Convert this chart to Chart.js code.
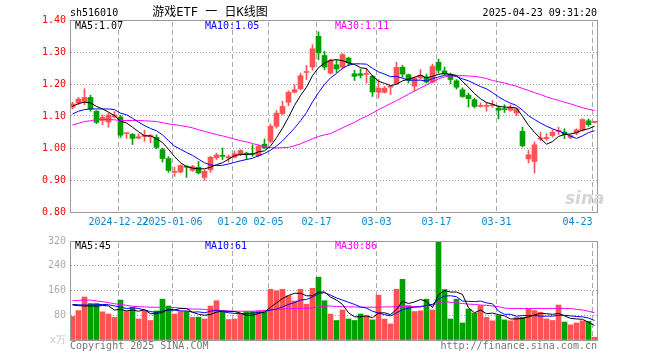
<!DOCTYPE html>
<html>
<head>
<meta charset="utf-8">
<script src="https://cdn.jsdelivr.net/npm/chart.js@4.4.1/dist/chart.umd.min.js"></script>
<style>
  body { margin: 0; background: #fff; }
  #wrap { position: relative; width: 660px; height: 360px; overflow: hidden;
          font-family: "DejaVu Sans Mono", monospace; font-size: 10px; }
  canvas { position: absolute; left: 0; }
  .t { position: absolute; line-height: 12px; white-space: pre; }
</style>
</head>
<body>
<div id="wrap">
  <canvas id="kline" width="660" height="232" style="top:0"></canvas>
  <canvas id="vol" width="660" height="130" style="top:230px"></canvas>

  <div class="t" style="left:70px;top:7px">sh516010</div>
  <div class="t" style="left:210px;top:5px;font-size:12px;line-height:14px;transform:translateX(-50%);font-family:'DejaVu Sans Mono','Noto Sans CJK SC',monospace">游戏ETF 一 日K线图</div>
  <div class="t" style="right:63px;top:7px">2025-04-23 09:31:20</div>

  <div class="t" style="left:75px;top:20px;color:#000">MA5:1.07</div>
  <div class="t" style="left:205px;top:20px;color:#0000ff">MA10:1.05</div>
  <div class="t" style="left:335px;top:20px;color:#ff00ff">MA30:1.11</div>

  <div class="t" style="left:75px;top:240px;color:#000">MA5:45</div>
  <div class="t" style="left:205px;top:240px;color:#0000ff">MA10:61</div>
  <div class="t" style="left:335px;top:240px;color:#ff00ff">MA30:86</div>

  <div class="t" style="left:565px;top:188px;font:italic bold 17px 'DejaVu Sans',sans-serif;color:#d6d6d6">sina</div>

  <div class="t" style="left:70px;top:340px;color:#777">Copyright 2025 SINA.COM</div>
  <div class="t" style="right:63px;top:340px;color:#777">http://finance.sina.com.cn</div>
</div>

<script>
// x axis: trading days 2024-12-11 .. 2025-04-23, labels at these day indexes
const gridIdx = [8, 17, 27, 33, 41, 51, 61, 71, 87];
const xLabels = ['2024-12-22', '2025-01-06', '01-20', '02-05', '02-17', '03-03', '03-17', '03-31', '04-23     '];

const open = [1.128,1.141,1.143,1.158,1.115,1.086,1.081,1.097,1.097,1.045,
  1.043,1.031,1.036,1.035,1.033,0.995,0.967,0.924,0.925,0.942,
  0.930,0.940,0.908,0.932,0.969,0.977,0.969,0.971,0.979,0.984,
  0.982,0.976,1.012,1.021,1.068,1.107,1.143,1.174,1.185,1.236,
  1.253,1.349,1.289,1.234,1.260,1.253,1.281,1.232,1.232,1.230,
  1.224,1.174,1.174,1.190,1.201,1.252,1.229,1.193,1.219,1.222,
  1.206,1.268,1.241,1.229,1.210,1.182,1.165,1.151,1.130,1.130,
  1.132,1.125,1.123,1.118,1.109,1.052,0.966,0.958,1.028,1.029,
  1.039,1.052,1.050,1.033,1.047,1.055,1.085,1.080];
const high = [1.143,1.158,1.185,1.165,1.117,1.104,1.109,1.114,1.102,1.047,
  1.045,1.044,1.055,1.042,1.041,1.000,0.973,0.940,0.948,0.945,
  0.946,0.958,0.932,0.974,0.984,1.000,0.978,0.990,0.995,0.987,
  1.010,1.010,1.028,1.075,1.117,1.146,1.179,1.198,1.234,1.258,
  1.323,1.363,1.302,1.278,1.276,1.295,1.284,1.243,1.247,1.250,
  1.227,1.214,1.193,1.195,1.268,1.258,1.231,1.222,1.245,1.231,
  1.262,1.278,1.253,1.234,1.214,1.188,1.172,1.156,1.141,1.143,
  1.148,1.132,1.135,1.135,1.125,1.065,0.993,1.019,1.049,1.045,
  1.057,1.065,1.060,1.042,1.060,1.092,1.091,1.083];
const low = [1.122,1.135,1.135,1.115,1.076,1.073,1.065,1.094,1.033,1.030,
  1.011,1.028,1.021,1.016,0.998,0.956,0.924,0.911,0.922,0.908,
  0.927,0.919,0.899,0.924,0.964,0.964,0.956,0.969,0.976,0.964,
  0.974,0.972,0.998,1.016,1.062,1.104,1.132,1.172,1.182,1.214,
  1.243,1.276,1.245,1.231,1.236,1.247,1.257,1.211,1.219,1.203,
  1.161,1.156,1.172,1.167,1.198,1.221,1.203,1.179,1.216,1.203,
  1.203,1.234,1.229,1.201,1.184,1.158,1.128,1.125,1.128,1.115,
  1.127,1.091,1.111,1.115,1.101,1.003,0.953,0.922,1.023,1.024,
  1.034,1.042,1.029,1.029,1.041,1.052,1.068,1.078];
const close = [1.138,1.153,1.158,1.122,1.080,1.096,1.103,1.103,1.040,1.047,
  1.030,1.035,1.040,1.039,1.002,0.967,0.930,0.927,0.945,0.940,
  0.942,0.922,0.927,0.971,0.978,0.974,0.973,0.982,0.992,0.979,
  0.980,1.005,1.000,1.068,1.109,1.130,1.174,1.182,1.226,1.238,
  1.310,1.297,1.253,1.274,1.247,1.292,1.266,1.224,1.227,1.233,
  1.175,1.187,1.187,1.193,1.252,1.231,1.211,1.219,1.227,1.206,
  1.255,1.243,1.232,1.214,1.190,1.161,1.154,1.130,1.133,1.133,
  1.135,1.118,1.120,1.128,1.122,1.007,0.979,1.010,1.031,1.033,
  1.049,1.055,1.042,1.039,1.057,1.089,1.073,1.082];

const ma5 = [1.130,1.139,1.143,1.141,1.130,1.122,1.112,1.101,1.084,1.078,
  1.065,1.051,1.038,1.038,1.029,1.017,0.996,0.973,0.954,0.942,
  0.937,0.935,0.935,0.940,0.948,0.954,0.965,0.976,0.980,0.980,
  0.981,0.988,0.991,1.006,1.032,1.062,1.096,1.133,1.164,1.190,
  1.226,1.251,1.265,1.274,1.276,1.273,1.266,1.261,1.251,1.248,
  1.225,1.209,1.202,1.195,1.199,1.210,1.215,1.221,1.228,1.219,
  1.224,1.230,1.233,1.230,1.227,1.208,1.190,1.170,1.154,1.142,
  1.137,1.130,1.128,1.127,1.125,1.099,1.071,1.049,1.030,1.012,
  1.020,1.036,1.042,1.044,1.048,1.056,1.060,1.068];
const ma10 = [1.106,1.115,1.120,1.122,1.122,1.122,1.122,1.120,1.109,1.104,
  1.093,1.081,1.070,1.061,1.054,1.041,1.023,1.006,0.996,0.986,
  0.977,0.965,0.954,0.947,0.945,0.946,0.950,0.955,0.960,0.964,
  0.968,0.976,0.983,0.993,1.006,1.022,1.042,1.062,1.085,1.111,
  1.144,1.173,1.199,1.219,1.233,1.249,1.259,1.263,1.263,1.262,
  1.249,1.238,1.231,1.223,1.224,1.218,1.212,1.212,1.212,1.209,
  1.217,1.222,1.227,1.229,1.223,1.216,1.210,1.201,1.192,1.185,
  1.173,1.160,1.149,1.140,1.133,1.118,1.101,1.089,1.078,1.068,
  1.060,1.053,1.046,1.037,1.030,1.038,1.048,1.054];
const ma30 = [1.072,1.077,1.083,1.085,1.089,1.089,1.089,1.088,1.086,1.086,
  1.086,1.086,1.085,1.084,1.083,1.079,1.075,1.073,1.070,1.067,
  1.063,1.057,1.052,1.047,1.042,1.038,1.033,1.028,1.023,1.019,
  1.014,1.009,1.004,1.001,1.000,1.001,1.002,1.007,1.013,1.021,
  1.029,1.036,1.041,1.045,1.054,1.063,1.072,1.080,1.091,1.099,
  1.109,1.120,1.129,1.139,1.148,1.158,1.168,1.178,1.188,1.197,
  1.207,1.216,1.222,1.225,1.226,1.226,1.225,1.224,1.221,1.217,
  1.211,1.207,1.203,1.198,1.193,1.186,1.180,1.173,1.167,1.160,
  1.154,1.149,1.143,1.138,1.132,1.126,1.121,1.117];

// volume, 万手
const vol = [76,95,139,118,118,91,84,73,129,92,
  105,68,95,63,94,132,110,84,92,92,
  73,74,68,110,127,90,66,68,84,92,
  92,94,90,164,159,164,143,126,164,116,
  167,203,127,84,63,97,68,63,84,78,
  65,145,68,52,164,196,111,92,94,132,
  97,316,163,68,132,55,100,87,111,73,
  62,79,65,62,73,73,100,95,90,68,
  63,113,58,49,55,62,60,9];
const vma5 = [113,111,110,110,109,112,110,97,99,94,
  97,93,98,85,85,90,99,97,102,102,
  90,83,80,83,90,94,92,92,87,80,
  80,86,90,106,120,134,144,151,151,143,
  143,155,155,139,129,115,88,75,75,78,
  72,87,88,82,99,125,118,123,131,125,
  105,146,160,155,155,147,104,88,97,85,
  87,82,78,68,68,70,75,81,86,85,
  83,86,78,70,68,67,57,47];
const vma10 = [115,114,113,113,114,115,114,110,106,102,
  104,102,97,92,89,94,96,97,94,94,
  90,91,88,93,96,92,88,86,85,85,
  87,89,91,97,100,107,115,121,129,131,
  139,150,153,145,136,129,122,115,107,103,
  93,87,82,78,88,98,103,106,107,112,
  115,132,142,143,140,126,125,124,126,120,
  117,93,83,83,77,79,79,79,77,77,
  77,80,80,78,76,75,71,63];
const vma30 = [127,128,129,129,126,124,121,117,115,112,
  109,108,107,106,106,105,105,105,103,101,
  100,100,99,97,96,95,94,93,93,93,
  93,94,95,97,99,100,101,102,102,102,
  104,107,109,110,108,108,107,107,106,106,
  106,106,107,107,108,108,108,108,109,110,
  113,120,124,122,120,118,116,115,113,112,
  110,108,103,102,102,102,102,102,102,102,
  102,102,102,102,99,97,93,88];

const UP = '#ff5353', DOWN = '#00a000';
const FONT = { family: 'DejaVu Sans Mono', size: 10 };
const idx = close.map((_, i) => i);
const colorOf = i => close[i] >= open[i] ? UP : DOWN;
const pts = arr => idx.map(i => ({ x: i, y: arr[i] }));

// dashed date lines, placed by the x scale, under the marks
const dateLines = {
  id: 'dateLines',
  beforeDatasetsDraw(chart) {
    const { ctx, chartArea: a, scales: { x } } = chart;
    ctx.save();
    ctx.fillStyle = '#aaaaaa';
    x.ticks.forEach(t => {
      const px = Math.floor(x.getPixelForValue(t.value));
      for (let y = a.top + 2; y < a.bottom - 1; y += 8) {
        ctx.fillRect(px, y, 1, Math.min(5, a.bottom - 1 - y));
      }
    });
    ctx.restore();
  }
};

// solid grey frame round the plot area
const frame = {
  id: 'frame',
  afterDatasetsDraw(chart) {
    const { ctx, chartArea: a } = chart;
    ctx.save();
    ctx.strokeStyle = '#999999';
    ctx.lineWidth = 1;
    ctx.setLineDash([]);
    ctx.strokeRect(a.left - 0.5, a.top + 0.5, a.right - a.left + 1, a.bottom - a.top);
    ctx.restore();
  }
};

function maLine(label, arr, color) {
  return { type: 'line', label, data: pts(arr), borderColor: color, borderWidth: 1,
           pointRadius: 0, tension: 0, order: 0 };
}

function xScale(showLabels) {
  return {
    type: 'linear',
    offset: false,
    min: -0.25,
    max: -0.25 + 526 / 6,
    afterBuildTicks: s => { s.ticks = gridIdx.map(v => ({ value: v - 1 / 3 })); },
    afterFit: s => { s.height = 20; },
    grid: { display: false, drawTicks: false, offset: false },
    border: { display: false },
    ticks: {
      display: showLabels, autoSkip: false, maxRotation: 0, minRotation: 0,
      padding: 4, color: '#0a86cc', font: FONT,
      callback: (v, i) => xLabels[i]
    }
  };
}

new Chart(document.getElementById('kline'), {
  type: 'bar',
  data: {
    datasets: [
      maLine('MA5', ma5, '#000000'),
      maLine('MA10', ma10, '#0000ff'),
      maLine('MA30', ma30, '#ff00ff'),
      { label: 'body', data: idx.map(i => ({ x: i, y: [open[i], close[i]] })),
        backgroundColor: c => colorOf(c.dataIndex), barThickness: 5, minBarLength: 1,
        grouped: false, order: 2 },
      { label: 'wick', data: idx.map(i => ({ x: i, y: [low[i], high[i]] })),
        backgroundColor: c => colorOf(c.dataIndex), barThickness: 1,
        grouped: false, order: 3 }
    ]
  },
  options: {
    responsive: false,
    animation: false,
    layout: { padding: { top: 20, right: 63, left: 0, bottom: 0 } },
    plugins: { legend: { display: false }, tooltip: { enabled: false } },
    scales: {
      x: xScale(true),
      y: {
        min: 0.8, max: 1.4,
        afterFit: s => { s.width = 71; },
        grid: { color: '#999', drawTicks: false },
        border: { display: false, dash: [1, 2] },
        ticks: { stepSize: 0.1, padding: 5, color: '#ff0000', font: FONT,
                 callback: v => Number(v).toFixed(2) }
      }
    }
  },
  plugins: [dateLines, frame]
});

new Chart(document.getElementById('vol'), {
  type: 'bar',
  data: {
    datasets: [
      maLine('MA5', vma5, '#000000'),
      maLine('MA10', vma10, '#0000ff'),
      maLine('MA30', vma30, '#ff00ff'),
      { label: 'vol', data: idx.map(i => ({ x: i, y: vol[i] })),
        backgroundColor: c => colorOf(c.dataIndex), barThickness: 5,
        grouped: false, order: 2 }
    ]
  },
  options: {
    responsive: false,
    animation: false,
    layout: { padding: { top: 10, right: 63, left: 0, bottom: 0 } },
    plugins: { legend: { display: false }, tooltip: { enabled: false } },
    scales: {
      x: xScale(false),
      y: {
        min: 0, max: 320,
        afterFit: s => { s.width = 71; },
        grid: { color: '#999', drawTicks: false },
        border: { display: false, dash: [1, 2] },
        ticks: { stepSize: 80, padding: 5, font: FONT,
                 color: c => c.tick && c.tick.value === 0 ? '#c4c4c4' : '#aaa',
                 callback: v => v === 0 ? 'x万' : String(v) }
      }
    }
  },
  plugins: [dateLines, frame]
});
</script>
</body>
</html>
